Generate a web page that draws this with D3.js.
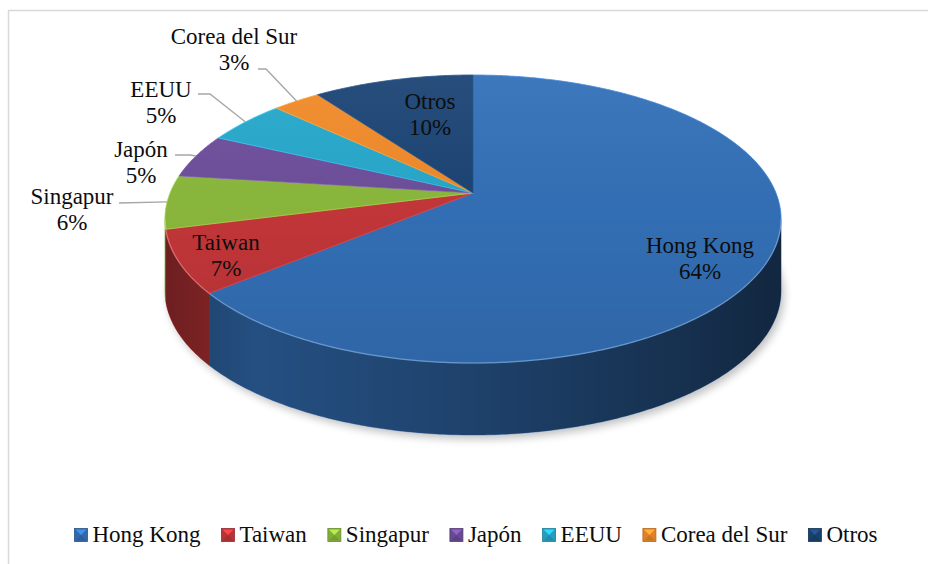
<!DOCTYPE html>
<meta charset="utf-8">
<head>
  <title>Exportaciones por destino</title>
  <script src="https://d3js.org/d3.v7.min.js"></script>
  <style>
    body { margin: 0; background: #fff; }
  </style>
</head>
<body>
<div id="display"></div>
<script>

// data
var categories = ["Hong Kong", "Taiwan", "Singapur", "Japón", "EEUU", "Corea del Sur", "Otros"];
var values = [64, 7, 6, 5, 5, 3, 10];
var colors = ["#3471b9", "#c6373a", "#8cba3d", "#6f4f9c", "#27a9cc", "#f28b2b", "#1c4575"];

var width = 928, height = 564;
var serif = "'Liberation Serif', Tinos, 'Times New Roman', 'DejaVu Serif', serif";

// 3d pie geometry (perspective ellipse)
var cx = 473, cy = 193, A = 303, B = 139.3, k = 0.1806, depth = 72;

function proj(phi, r) {
  var u = r * Math.sin(phi), v = -r * Math.cos(phi);
  var den = 1 - k * v;
  return [cx + A * u / den, cy + B * v / den];
}
function arcPts(a0, a1, r, dy) {
  var n = Math.max(2, Math.ceil((a1 - a0) / 0.01));
  var pts = [];
  for (var i = 0; i <= n; i++) {
    var p = proj(a0 + (a1 - a0) * i / n, r);
    pts.push([p[0], p[1] + (dy || 0)]);
  }
  return pts;
}
var line = d3.line();

var svg = d3.select("#display").append("svg")
  .attr("width", width).attr("height", height)
  .attr("font-family", serif)
  .style("font-family", serif);

var defs = svg.append("defs");
defs.append("filter").attr("id", "blur")
  .attr("x", "-20%").attr("y", "-20%").attr("width", "140%").attr("height", "140%")
  .append("feGaussianBlur").attr("stdDeviation", 4);

var sideShade = defs.append("linearGradient").attr("id", "sideShade")
  .attr("gradientUnits", "userSpaceOnUse")
  .attr("x1", cx - 310).attr("x2", cx + 310).attr("y1", 0).attr("y2", 0);
[[0, 0.45], [0.15, 0.3], [0.5, 0.42], [0.85, 0.58], [1, 0.66]].forEach(function(s) {
  sideShade.append("stop").attr("offset", s[0]).attr("stop-color", "#000").attr("stop-opacity", s[1]);
});

var topShade = defs.append("linearGradient").attr("id", "topShade")
  .attr("gradientUnits", "userSpaceOnUse")
  .attr("x1", 0).attr("x2", 0).attr("y1", cy - 120).attr("y2", cy + 170);
topShade.append("stop").attr("offset", 0).attr("stop-color", "#fff").attr("stop-opacity", 0.05);
topShade.append("stop").attr("offset", 0.5).attr("stop-color", "#000").attr("stop-opacity", 0.03);
topShade.append("stop").attr("offset", 1).attr("stop-color", "#000").attr("stop-opacity", 0.1);

// chart frame
svg.append("path")
  .attr("d", "M8.5," + height + "V10.5H" + width)
  .attr("fill", "none").attr("stroke", "#d9d9d9").attr("stroke-width", 1.5);

var pie = d3.pie().sort(null).value(function(d) { return d; });
var arcs = pie(values);

// soft shadow under the pie
svg.append("path")
  .attr("d", line(arcPts(0, 2 * Math.PI, 1, depth)) + "Z")
  .attr("transform", "translate(3,4)")
  .attr("fill", "#000").attr("opacity", 0.25)
  .attr("filter", "url(#blur)");

// visible side walls
var frontA = Math.acos(-k), frontB = 2 * Math.PI - Math.acos(-k);
var walls = [];
arcs.forEach(function(a, i) {
  var s = Math.max(a.startAngle, frontA), e = Math.min(a.endAngle, frontB);
  if (e > s) {
    var top = arcPts(s, e, 1, 0);
    var bot = arcPts(s, e, 1, depth).reverse();
    walls.push({ i: i, d: line(top.concat(bot)) + "Z" });
  }
});
var wallG = svg.append("g");
wallG.selectAll(".wall").data(walls).enter().append("path")
  .attr("d", function(d) { return d.d; })
  .attr("fill", function(d) { return colors[d.i]; })
  .attr("stroke", function(d) { return colors[d.i]; }).attr("stroke-width", 0.5);
wallG.selectAll(".wallShade").data(walls).enter().append("path")
  .attr("d", function(d) { return d.d; })
  .attr("fill", "url(#sideShade)");

// top faces
var topG = svg.append("g");
topG.selectAll(".slice").data(arcs).enter().append("path")
  .attr("d", function(a) {
    return line([[cx, cy]].concat(arcPts(a.startAngle, a.endAngle, 1, 0))) + "Z";
  })
  .attr("fill", function(a, i) { return colors[i]; })
  .attr("stroke", function(a, i) { return d3.color(colors[i]).brighter(0.5); })
  .attr("stroke-width", 0.8)
  .attr("stroke-linejoin", "round");
topG.append("path")
  .attr("d", line(arcPts(0, 2 * Math.PI, 1, 0)) + "Z")
  .attr("fill", "url(#topShade)");
// rim highlight
topG.append("path")
  .attr("d", line(arcPts(frontA, frontB, 1, 0)))
  .attr("fill", "none").attr("stroke", "#fff").attr("stroke-opacity", 0.22).attr("stroke-width", 1.5);

// data labels
var fs = 23, lh = 26;
var labelLayout = [
  { x: 700, y: 253, inside: true },
  { x: 226, y: 250, inside: true },
  { x: 72, y: 204, lx: 119, ly: 203, bend: 119 },
  { x: 141, y: 157, lx: 175, ly: 155, bend: 190 },
  { x: 161, y: 97, lx: 198, ly: 94, bend: 210 },
  { x: 234, y: 44, lx: 258, ly: 69, bend: 266 },
  { x: 430, y: 109, inside: true }
];
var labG = svg.append("g");
arcs.forEach(function(a, i) {
  var L = labelLayout[i];
  if (!L.inside) {
    var mid = (a.startAngle + a.endAngle) / 2;
    var rim = proj(mid, 1);
    labG.append("path")
      .attr("d", line([[L.lx, L.ly], [L.bend, L.ly], rim]))
      .attr("fill", "none").attr("stroke", "#a6a6a6").attr("stroke-width", 1.3);
  }
  var t = labG.append("text").attr("text-anchor", "middle").attr("font-size", fs)
    .attr("fill", "#0d0d0d");
  t.append("tspan").attr("x", L.x).attr("y", L.y).text(categories[i]);
  t.append("tspan").attr("x", L.x).attr("y", L.y + lh)
    .text(d3.format(".0%")(a.value / d3.sum(values)));
});

// legend
var legG = svg.append("g");
var items = legG.selectAll(".item").data(categories).enter().append("g");
items.append("text").attr("font-size", fs).attr("y", 542).attr("fill", "#0d0d0d")
  .text(function(d) { return d; });
var xPos = 0, gap = 21, ms = 13, mg = 18;
var offs = [];
items.each(function(d) {
  var w = d3.select(this).select("text").node().getComputedTextLength();
  offs.push(xPos);
  xPos += mg + w + gap;
});
var total = xPos - gap;
var x0 = 476 - total / 2;
items.each(function(d, i) {
  var g = d3.select(this);
  var x = x0 + offs[i];
  var c = d3.color(colors[i]);
  g.select("text").attr("x", x + mg);
  var y = 528.5;
  g.append("rect").attr("x", x).attr("y", y).attr("width", ms).attr("height", ms)
    .attr("fill", c.darker(0.2)).attr("stroke", c.darker(0.8)).attr("stroke-width", 0.8);
  g.append("path")
    .attr("d", line([[x + 1, y + 1], [x + ms - 1, y + 1], [x + ms / 2, y + ms / 2]]) + "Z")
    .attr("fill", c.brighter(0.7));
  g.append("path")
    .attr("d", line([[x + 1, y + ms - 1], [x + ms - 1, y + ms - 1], [x + ms / 2, y + ms / 2]]) + "Z")
    .attr("fill", c.darker(0.5));
});

</script>
</body>
